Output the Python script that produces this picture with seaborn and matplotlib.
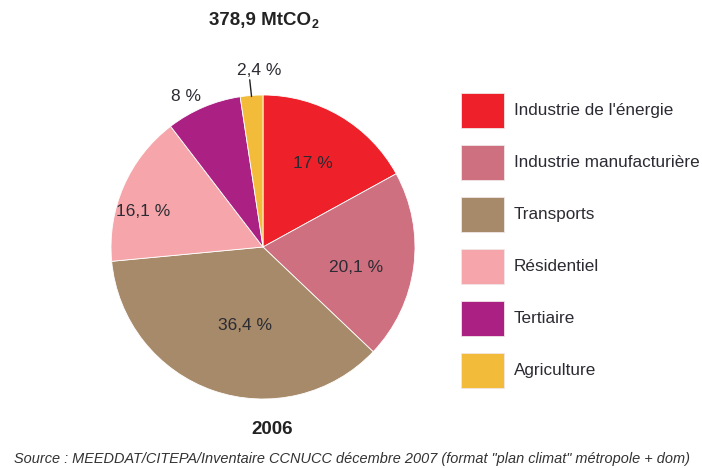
import matplotlib
matplotlib.use("Agg")
import matplotlib.pyplot as plt
from matplotlib.patches import Rectangle
import seaborn as sns
import numpy as np

categories = ["Industrie de l'énergie", "Industrie manufacturière", "Transports",
              "Résidentiel", "Tertiaire", "Agriculture"]
shares = [17.0, 20.1, 36.4, 16.1, 8.0, 2.4]
share_labels = ["17 %", "20,1 %", "36,4 %", "16,1 %", "8 %", "2,4 %"]
colors_hex = ["#EE2029", "#CF7080", "#A68A6A", "#F6A6AA", "#AA2183", "#F2BC3A"]
title_text = "378,9 MtCO"
title_sub = "2"
year_text = "2006"
source_text = 'Source : MEEDDAT/CITEPA/Inventaire CCNUCC décembre 2007 (format "plan climat" métropole + dom)'

# label placement style (radius fraction, angle offset in degrees)
label_radius = [0.64, 0.63, 0.53, 0.82, 1.11, 1.16]
label_dangle = [0.0, -5.0, 6.0, 7.0, 4.0, -3.0]

sns.set_theme(style="white")
palette = sns.color_palette(colors_hex)
plt.rcParams['font.family'] = ["Liberation Sans", "DejaVu Sans"]

W, H = 702, 468
fig = plt.figure(figsize=(W / 100, H / 100), dpi=100)
fig.patch.set_facecolor("white")

cx, cy, R = 263, 247, 152
ax = fig.add_axes([(cx - R) / W, 1 - (cy + R) / H, 2 * R / W, 2 * R / H])
wedges, _ = ax.pie(shares, colors=palette, startangle=90, counterclock=False,
                   wedgeprops=dict(linewidth=0.6, edgecolor="white"))
ax.set_xlim(-1, 1)
ax.set_ylim(-1, 1)
ax.set_aspect("equal")
ax.axis("off")

txtcol = "#2b2b33"
for w, lab, r, da in zip(wedges, share_labels, label_radius, label_dangle):
    ang = np.deg2rad((w.theta1 + w.theta2) / 2 + da)
    ax.text(r * np.cos(ang), r * np.sin(ang), lab, ha="center", va="center",
            fontsize=12.5, color=txtcol, clip_on=False)

# leader line for the small slice
w = wedges[-1]
ang = np.deg2rad((w.theta1 + w.theta2) / 2)
ax.plot([np.cos(ang) - 0.012, np.cos(ang)], [1.10, 0.99],
        color="#222222", lw=1.0, clip_on=False)

# title with subscript
fig.text(311 / W, 1 - 20 / H, title_text, ha="right", va="center",
         fontsize=13.5, fontweight="bold", color="#222222")
fig.text(311.5 / W, 1 - 25 / H, title_sub, ha="left", va="center",
         fontsize=9, fontweight="bold", color="#222222")
fig.text(272 / W, 1 - 430 / H, year_text, ha="center", va="center",
         fontsize=13.5, fontweight="bold", color="#222222")
fig.text(352 / W, 1 - 459 / H, source_text, ha="center", va="center",
         fontsize=10.45, style="italic", color="#333333")

# manual legend in pixel coordinates
lax = fig.add_axes([0, 0, 1, 1])
lax.set_xlim(0, W)
lax.set_ylim(H, 0)
lax.axis("off")
lax.patch.set_alpha(0)
x0, y0, bw, bh, step = 461, 93, 43, 35, 52
for i, (cat, col) in enumerate(zip(categories, palette)):
    top = y0 + step * i
    lax.add_patch(Rectangle((x0, top), bw, bh, facecolor=col,
                            edgecolor="#f0e6e6", linewidth=0.6))
    lax.text(x0 + bw + 10, top + bh / 2, cat, ha="left", va="center",
             fontsize=12.3, color=txtcol)

fig.savefig("out.png", dpi=100, facecolor="white")
